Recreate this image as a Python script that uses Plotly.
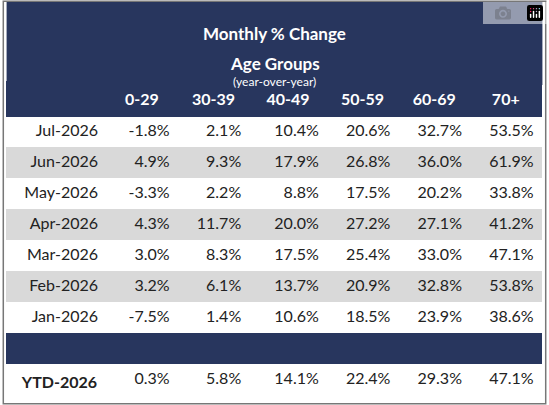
import plotly.graph_objects as go

age_groups = ['0-29', '30-39', '40-49', '50-59', '60-69', '70+']
months = ['Jul-2026', 'Jun-2026', 'May-2026', 'Apr-2026', 'Mar-2026', 'Feb-2026', 'Jan-2026']
g0_29 = [-1.8, 4.9, -3.3, 4.3, 3.0, 3.2, -7.5]
g30_39 = [2.1, 9.3, 2.2, 11.7, 8.3, 6.1, 1.4]
g40_49 = [10.4, 17.9, 8.8, 20.0, 17.5, 13.7, 10.6]
g50_59 = [20.6, 26.8, 17.5, 27.2, 25.4, 20.9, 18.5]
g60_69 = [32.7, 36.0, 20.2, 27.1, 33.0, 32.8, 23.9]
g70_plus = [53.5, 61.9, 33.8, 41.2, 47.1, 53.8, 38.6]
ytd_label = 'YTD-2026'
ytd = [0.3, 5.8, 14.1, 22.4, 29.3, 47.1]

navy = '#28365E'
gray = '#D9D9D9'
font = 'Lato, Open Sans, sans-serif'

series = [g0_29, g30_39, g40_49, g50_59, g60_69, g70_plus]
label_col = months + [''] + ['<b>' + ytd_label + '</b>']
cols = [label_col]
for i, s in enumerate(series):
    cols.append([f'{v:.1f}%' for v in s] + [''] + [f'{ytd[i]:.1f}%'])

row_fill = ['white' if i % 2 == 0 else gray for i in range(len(months))] + [navy, 'white']
fills = [row_fill] * len(cols)

fig = go.Figure(go.Table(
    domain=dict(x=[0.012, 0.988], y=[0.0, 0.80]),
    columnwidth=[100, 72, 72, 78, 72, 72, 72],
    header=dict(values=[''] + ['<b>' + a + '</b>' for a in age_groups],
                fill_color=navy, line_color=navy, height=31, align='center',
                font=dict(family=font, size=16, color='white')),
    cells=dict(values=cols, fill_color=fills, line_color=fills, height=31,
               align='right',
               font=dict(family=font, size=16, color='#222222'))
))

fig.add_shape(type='rect', xref='paper', yref='paper', x0=0.012, x1=0.988, y0=0.79, y1=0.995,
              fillcolor=navy, line_width=0, layer='below')
fig.add_shape(type='rect', xref='paper', yref='paper', x0=0.006, x1=0.994, y0=0.003, y1=0.997,
              line=dict(color='#777777', width=1.5), layer='above')
fig.add_annotation(x=0.5, y=0.948, xref='paper', yref='paper', text='<b>Monthly % Change</b>',
                   showarrow=False, font=dict(family=font, size=17, color='white'))
fig.add_annotation(x=0.5, y=0.875, xref='paper', yref='paper', text='<b>Age Groups</b>',
                   showarrow=False, font=dict(family=font, size=17, color='white'))
fig.add_annotation(x=0.5, y=0.823, xref='paper', yref='paper', text='(year-over-year)',
                   showarrow=False, font=dict(family=font, size=12, color='white'))

fig.update_layout(width=549, height=405, margin=dict(l=0, r=0, t=0, b=0),
                  paper_bgcolor='white')
fig.write_html("out.html",
               post_script="document.body.style.margin='0';document.body.style.overflow='hidden';")
